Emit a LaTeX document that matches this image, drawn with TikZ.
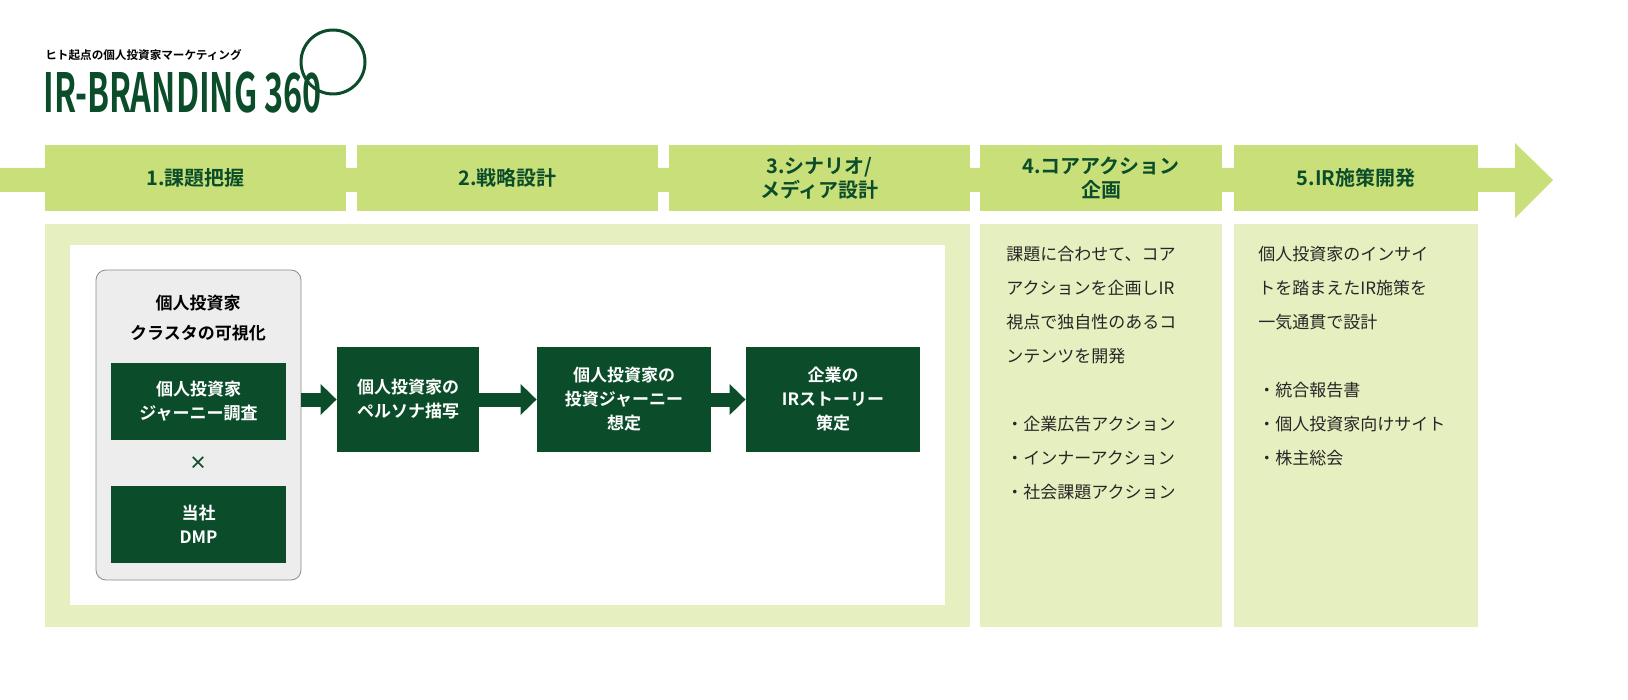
\documentclass[tikz,border=0pt]{standalone}
\usepackage{fontspec}
\newfontfamily\jpfont{Noto Sans CJK JP}
\newfontfamily\jpbold{Noto Sans CJK JP Bold}
\usetikzlibrary{positioning,arrows.meta}
\definecolor{dkgreen}{HTML}{0B4D2A}
\definecolor{hdgreen}{HTML}{C9E07A}
\definecolor{pnlgreen}{HTML}{E6EFBF}
\tikzset{
  hdbox/.style={fill=hdgreen,inner sep=0pt,font=\jpbold\fontsize{10}{12}\selectfont,text=dkgreen,align=center},
  dkbox/.style={fill=dkgreen,inner sep=0pt,font=\jpbold\fontsize{8.5}{12}\selectfont,text=white,align=center},
  pnltext/.style={anchor=north west,align=left,font=\jpfont\fontsize{8.5}{17}\selectfont,text=black!85,inner sep=0pt},
  blockarrow/.style={-{Triangle[length=8pt,width=15pt]},line width=7pt,draw=dkgreen}
}
\begin{document}%
\begin{tikzpicture}[x=0.5pt,y=-0.5pt]
  \useasboundingbox (0,0) rectangle (1628,700);
  % title
  \node[anchor=west,inner sep=0pt,font=\jpbold\fontsize{5.8}{7}\selectfont] (sub) at (45,55) {ヒト起点の個人投資家マーケティング};
  \node[anchor=west,inner sep=0pt,text=dkgreen,font=\jpbold\fontsize{27}{30}\selectfont] (logo) at (43,93) {\scalebox{0.6}[1]{IR-BRANDING 360}};
  \draw[dkgreen,line width=1.5pt] (333,62) circle [radius=16pt];
  % band arrow
  \fill[hdgreen] (0,168) -- (1515,168) -- (1515,143) -- (1553,180) -- (1515,218) -- (1515,192) -- (0,192) -- cycle;
  % headers
  \node[hdbox,minimum width=150.5pt,minimum height=33pt] (h1) at (195.5,178) {1.課題把握};
  \node[hdbox,minimum width=150.5pt,minimum height=33pt] (h2) at (507.5,178) {2.戦略設計};
  \node[hdbox,minimum width=150.5pt,minimum height=33pt] (h3) at (819.5,178) {3.シナリオ/\\メディア設計};
  \node[hdbox,minimum width=121pt,minimum height=33pt] (h4) at (1101,178) {4.コアアクション\\企画};
  \node[hdbox,minimum width=122pt,minimum height=33pt] (h5) at (1356,178) {5.IR施策開発};
  % panels
  \fill[pnlgreen] (45,224) rectangle (970,627);
  \fill[pnlgreen] (980,224) rectangle (1222,627);
  \fill[pnlgreen] (1234,224) rectangle (1478,627);
  \fill[white] (70,245) rectangle (945,605);
  \draw[black!45,fill=black!7,rounded corners=5pt] (96,270) rectangle (301,580);
  \node[font=\jpbold\fontsize{8.5}{15}\selectfont,align=center] (cl) at (198,318) {個人投資家\\クラスタの可視化};
  \node[dkbox,minimum width=87.5pt,minimum height=38.5pt] (jr) at (198.5,401.5) {個人投資家\\ジャーニー調査};
  \node[font=\jpbold\fontsize{9}{10}\selectfont,text=dkgreen] (x) at (198,463) {×};
  \node[dkbox,minimum width=87.5pt,minimum height=38.5pt] (dmp) at (198.5,524.5) {当社\\DMP};
  \node[dkbox,minimum width=71pt,minimum height=52.5pt] (ps) at (408,399.5) {個人投資家の\\ペルソナ描写};
  \node[dkbox,minimum width=87pt,minimum height=52.5pt] (ij) at (624,399.5) {個人投資家の\\投資ジャーニー\\想定};
  \node[dkbox,minimum width=87pt,minimum height=52.5pt] (st) at (833,399.5) {企業の\\IRストーリー\\策定};
  \draw[blockarrow] (301,399.5) -- (ps.west);
  \draw[blockarrow] (ps.east) -- (ij.west);
  \draw[blockarrow] (ij.east) -- (st.west);
  % panel texts
  \node[pnltext] (t4) at (1006,246) {課題に合わせて、コア\\アクションを企画しIR\\視点で独自性のあるコ\\ンテンツを開発\\[17pt]・企業広告アクション\\・インナーアクション\\・社会課題アクション};
  \node[pnltext] (t5) at (1258,246) {個人投資家のインサイ\\トを踏まえたIR施策を\\一気通貫で設計\\[17pt]・統合報告書\\・個人投資家向けサイト\\・株主総会};
\end{tikzpicture}%
\end{document}
